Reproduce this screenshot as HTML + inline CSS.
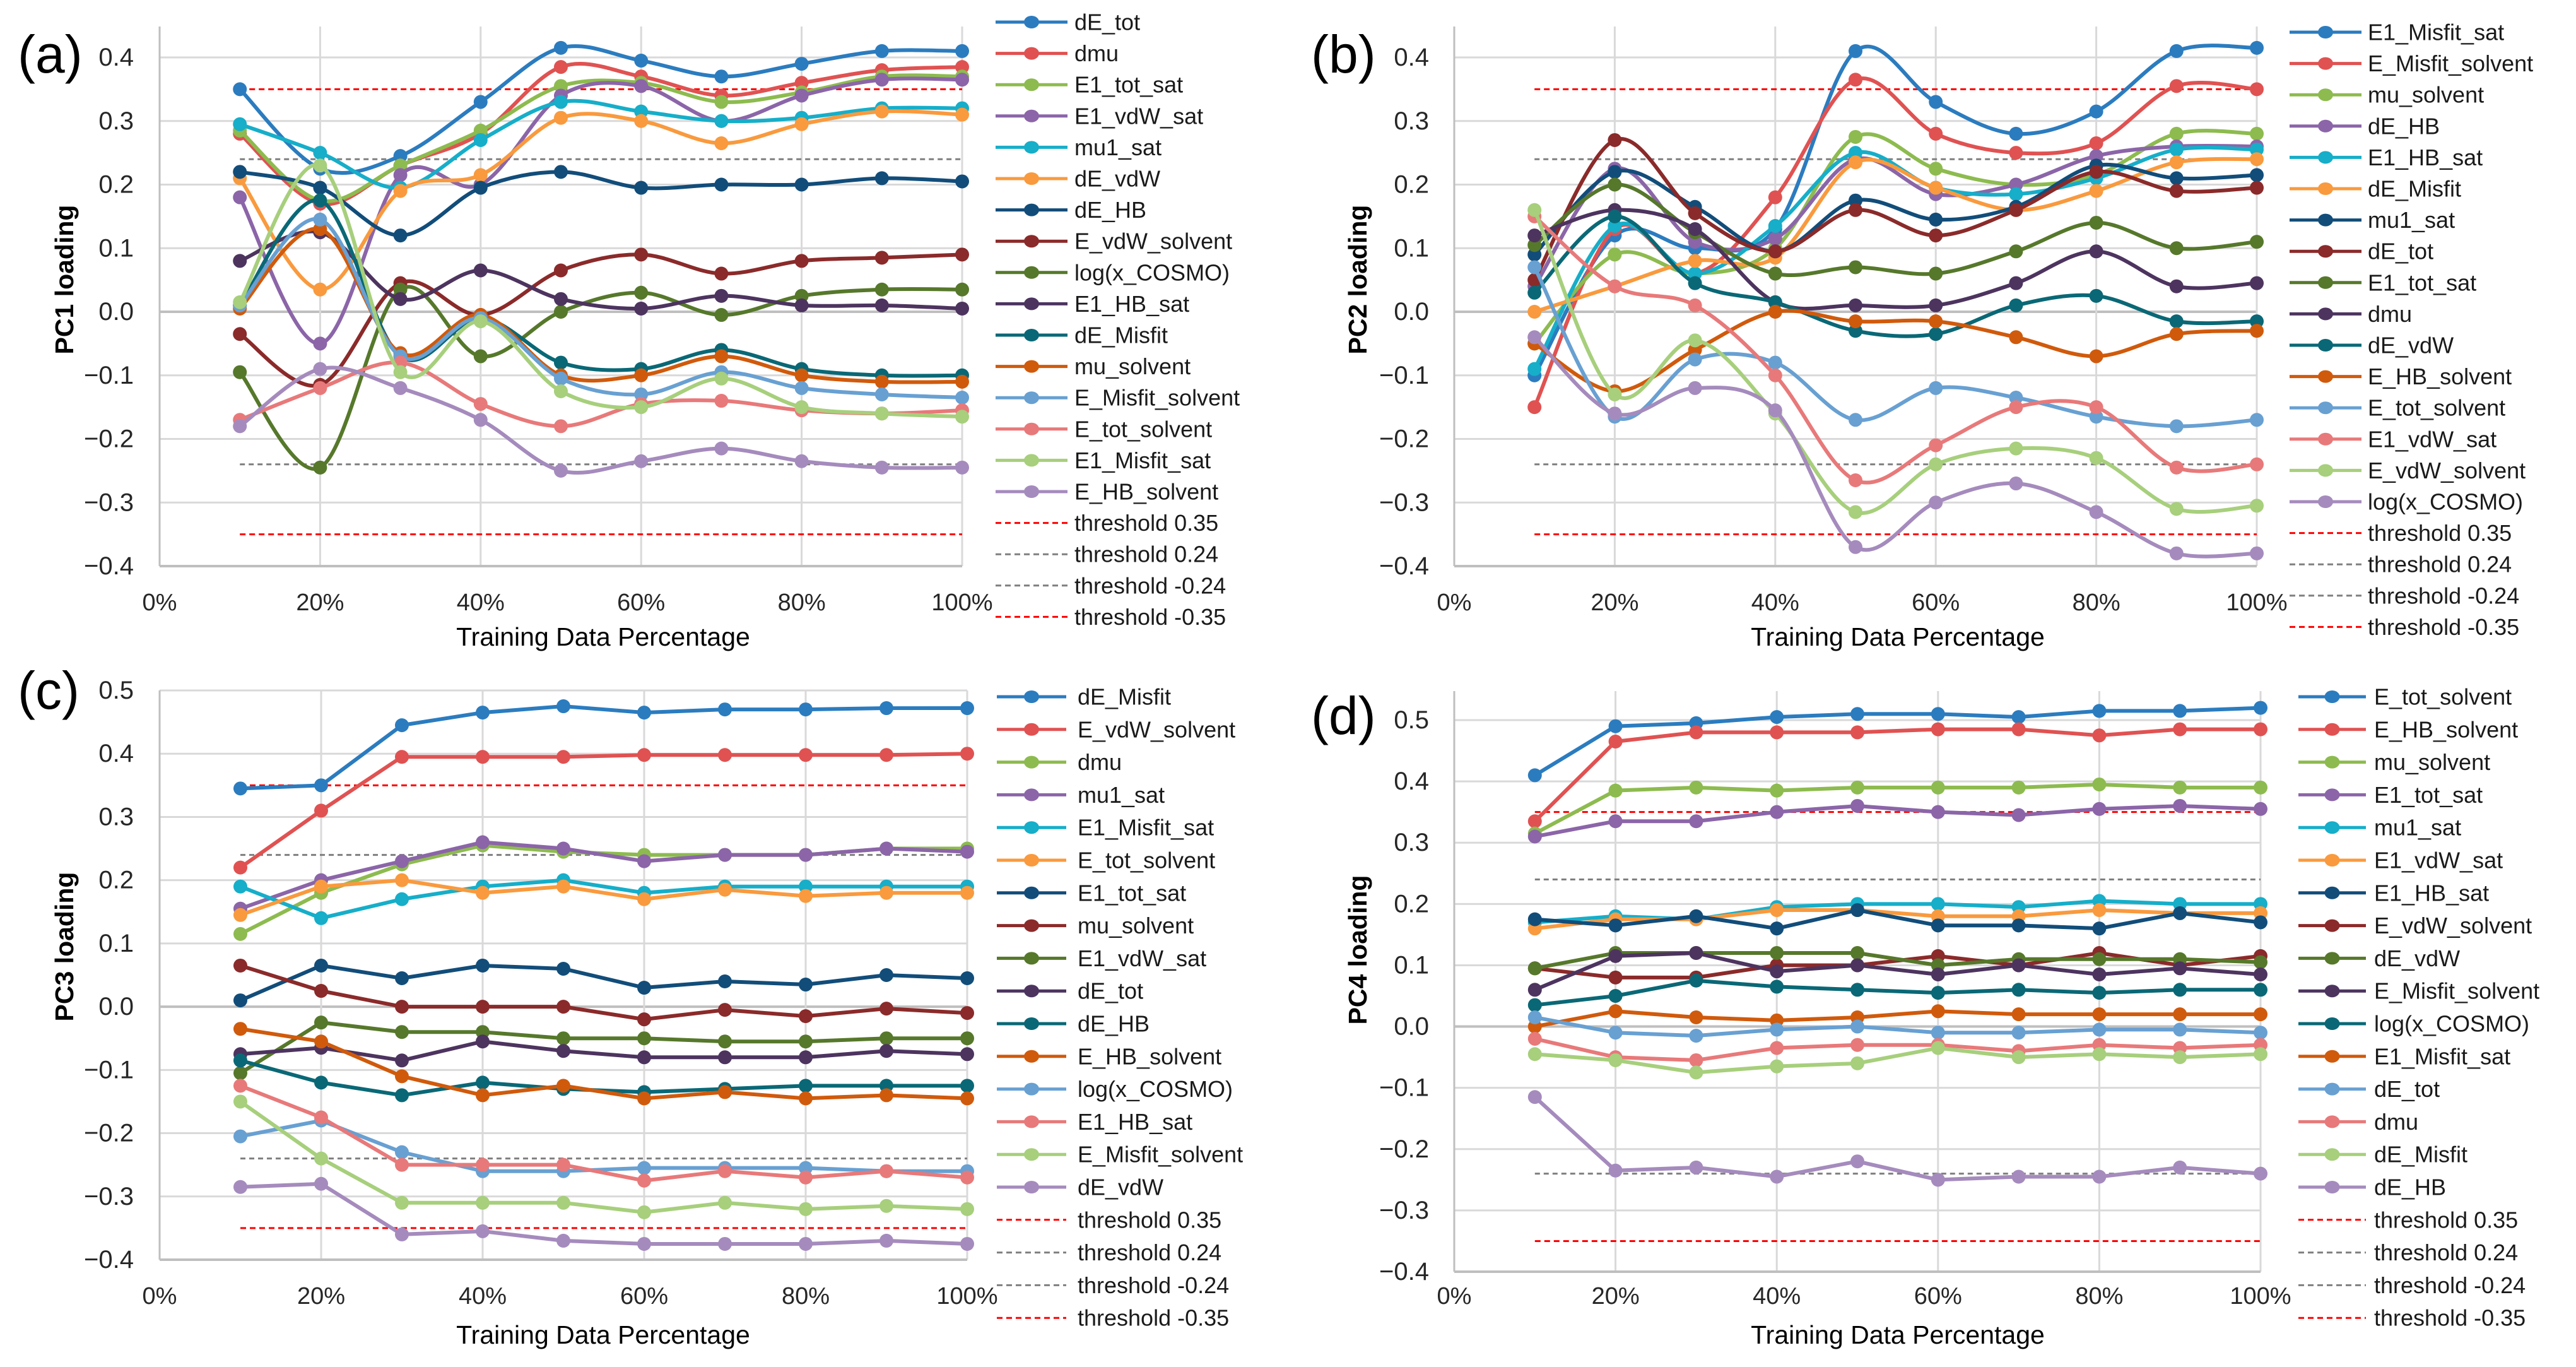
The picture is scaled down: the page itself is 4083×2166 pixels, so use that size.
<!DOCTYPE html>
<html><head><meta charset="utf-8"><title>PC loadings</title>
<style>
html,body{margin:0;padding:0;background:#fff;}
svg{display:block;font-family:"Liberation Sans",sans-serif;}
</style></head>
<body>
<svg id="fig" xmlns="http://www.w3.org/2000/svg" width="4083" height="2166" viewBox="0 0 4083 2166">
<rect x="0" y="0" width="4083" height="2166" fill="#fff"/>
</svg>
<script>
const categories = [10,20,30,40,50,60,70,80,90,100];
const xTicks = [0,20,40,60,80,100];
const abTicks = [0.4,0.3,0.2,0.1,0.0,-0.1,-0.2,-0.3,-0.4];
const cdTicks = [0.5,0.4,0.3,0.2,0.1,0.0,-0.1,-0.2,-0.3,-0.4];
const thresholds = [0.35,0.24,-0.24,-0.35];
const thresholdLabels = ["threshold 0.35","threshold 0.24","threshold -0.24","threshold -0.35"];
const palette = ["#2b7cbf","#e05252","#8dbb4f","#8b65a8","#16aec9","#f99a3e","#124d7a","#8b2a2a","#56782b","#4d345f","#0a6876","#d05a0c","#68a0d2","#e8797a","#a7cf7c","#a58bbd"];

const aNames = ["dE_tot","dmu","E1_tot_sat","E1_vdW_sat","mu1_sat","dE_vdW","dE_HB","E_vdW_solvent","log(x_COSMO)","E1_HB_sat","dE_Misfit","mu_solvent","E_Misfit_solvent","E_tot_solvent","E1_Misfit_sat","E_HB_solvent"];
const aValues = [
[0.35,0.225,0.245,0.33,0.415,0.395,0.37,0.39,0.41,0.41],
[0.28,0.17,0.23,0.28,0.385,0.37,0.34,0.36,0.38,0.385],
[0.285,0.175,0.23,0.285,0.355,0.36,0.33,0.345,0.37,0.37],
[0.18,-0.05,0.215,0.2,0.34,0.355,0.3,0.34,0.365,0.365],
[0.295,0.25,0.195,0.27,0.33,0.315,0.3,0.305,0.32,0.32],
[0.21,0.035,0.19,0.215,0.305,0.3,0.265,0.295,0.315,0.31],
[0.22,0.195,0.12,0.195,0.22,0.195,0.2,0.2,0.21,0.205],
[-0.035,-0.115,0.045,-0.005,0.065,0.09,0.06,0.08,0.085,0.09],
[-0.095,-0.245,0.035,-0.07,0.0,0.03,-0.005,0.025,0.035,0.035],
[0.08,0.125,0.02,0.065,0.02,0.005,0.025,0.01,0.01,0.005],
[0.01,0.175,-0.07,-0.01,-0.08,-0.09,-0.06,-0.09,-0.1,-0.1],
[0.005,0.13,-0.065,-0.005,-0.1,-0.1,-0.07,-0.1,-0.11,-0.11],
[0.01,0.145,-0.07,-0.01,-0.105,-0.13,-0.095,-0.12,-0.13,-0.135],
[-0.17,-0.12,-0.08,-0.145,-0.18,-0.145,-0.14,-0.155,-0.16,-0.155],
[0.015,0.23,-0.095,-0.015,-0.125,-0.15,-0.105,-0.15,-0.16,-0.165],
[-0.18,-0.09,-0.12,-0.17,-0.25,-0.235,-0.215,-0.235,-0.245,-0.245]];

const bNames = ["E1_Misfit_sat","E_Misfit_solvent","mu_solvent","dE_HB","E1_HB_sat","dE_Misfit","mu1_sat","dE_tot","E1_tot_sat","dmu","dE_vdW","E_HB_solvent","E_tot_solvent","E1_vdW_sat","E_vdW_solvent","log(x_COSMO)"];
const bValues = [
[-0.1,0.12,0.1,0.13,0.41,0.33,0.28,0.315,0.41,0.415],
[-0.15,0.13,0.06,0.18,0.365,0.28,0.25,0.265,0.355,0.35],
[-0.05,0.09,0.06,0.1,0.275,0.225,0.2,0.215,0.28,0.28],
[0.04,0.225,0.11,0.115,0.24,0.185,0.2,0.245,0.26,0.26],
[-0.09,0.135,0.06,0.135,0.25,0.195,0.185,0.21,0.255,0.255],
[0.0,0.04,0.08,0.085,0.235,0.195,0.16,0.19,0.235,0.24],
[0.09,0.22,0.165,0.095,0.175,0.145,0.165,0.23,0.21,0.215],
[0.05,0.27,0.155,0.095,0.16,0.12,0.16,0.22,0.19,0.195],
[0.105,0.2,0.125,0.06,0.07,0.06,0.095,0.14,0.1,0.11],
[0.12,0.16,0.13,0.015,0.01,0.01,0.045,0.095,0.04,0.045],
[0.03,0.15,0.045,0.015,-0.03,-0.035,0.01,0.025,-0.015,-0.015],
[-0.05,-0.125,-0.06,0.0,-0.015,-0.015,-0.04,-0.07,-0.035,-0.03],
[0.07,-0.165,-0.075,-0.08,-0.17,-0.12,-0.135,-0.165,-0.18,-0.17],
[0.15,0.04,0.01,-0.1,-0.265,-0.21,-0.15,-0.15,-0.245,-0.24],
[0.16,-0.13,-0.045,-0.16,-0.315,-0.24,-0.215,-0.23,-0.31,-0.305],
[-0.04,-0.16,-0.12,-0.155,-0.37,-0.3,-0.27,-0.315,-0.38,-0.38]];

const cNames = ["dE_Misfit","E_vdW_solvent","dmu","mu1_sat","E1_Misfit_sat","E_tot_solvent","E1_tot_sat","mu_solvent","E1_vdW_sat","dE_tot","dE_HB","E_HB_solvent","log(x_COSMO)","E1_HB_sat","E_Misfit_solvent","dE_vdW"];
const cValues = [
[0.345,0.35,0.445,0.465,0.475,0.465,0.47,0.47,0.472,0.472],
[0.22,0.31,0.395,0.395,0.395,0.398,0.398,0.398,0.398,0.4],
[0.115,0.18,0.225,0.255,0.245,0.24,0.24,0.24,0.25,0.25],
[0.155,0.2,0.23,0.26,0.25,0.23,0.24,0.24,0.25,0.245],
[0.19,0.14,0.17,0.19,0.2,0.18,0.19,0.19,0.19,0.19],
[0.145,0.19,0.2,0.18,0.19,0.17,0.185,0.175,0.18,0.18],
[0.01,0.065,0.045,0.065,0.06,0.03,0.04,0.035,0.05,0.045],
[0.065,0.025,0.0,0.0,0.0,-0.02,-0.005,-0.015,-0.003,-0.01],
[-0.105,-0.025,-0.04,-0.04,-0.05,-0.05,-0.055,-0.055,-0.05,-0.05],
[-0.075,-0.065,-0.085,-0.055,-0.07,-0.08,-0.08,-0.08,-0.07,-0.075],
[-0.085,-0.12,-0.14,-0.12,-0.13,-0.135,-0.13,-0.125,-0.125,-0.125],
[-0.035,-0.055,-0.11,-0.14,-0.125,-0.145,-0.135,-0.145,-0.14,-0.145],
[-0.205,-0.18,-0.23,-0.26,-0.26,-0.255,-0.255,-0.255,-0.26,-0.26],
[-0.125,-0.175,-0.25,-0.25,-0.25,-0.275,-0.26,-0.27,-0.26,-0.27],
[-0.15,-0.24,-0.31,-0.31,-0.31,-0.325,-0.31,-0.32,-0.315,-0.32],
[-0.285,-0.28,-0.36,-0.355,-0.37,-0.375,-0.375,-0.375,-0.37,-0.375]];

const dNames = ["E_tot_solvent","E_HB_solvent","mu_solvent","E1_tot_sat","mu1_sat","E1_vdW_sat","E1_HB_sat","E_vdW_solvent","dE_vdW","E_Misfit_solvent","log(x_COSMO)","E1_Misfit_sat","dE_tot","dmu","dE_Misfit","dE_HB"];
const dValues = [
[0.41,0.49,0.495,0.505,0.51,0.51,0.505,0.515,0.515,0.52],
[0.335,0.465,0.48,0.48,0.48,0.485,0.485,0.475,0.485,0.485],
[0.315,0.385,0.39,0.385,0.39,0.39,0.39,0.395,0.39,0.39],
[0.31,0.335,0.335,0.35,0.36,0.35,0.345,0.355,0.36,0.355],
[0.17,0.18,0.175,0.195,0.2,0.2,0.195,0.205,0.2,0.2],
[0.16,0.175,0.175,0.19,0.19,0.18,0.18,0.19,0.185,0.185],
[0.175,0.165,0.18,0.16,0.19,0.165,0.165,0.16,0.185,0.17],
[0.095,0.08,0.08,0.1,0.1,0.115,0.1,0.12,0.1,0.115],
[0.095,0.12,0.12,0.12,0.12,0.1,0.11,0.11,0.11,0.105],
[0.06,0.115,0.12,0.09,0.1,0.085,0.1,0.085,0.095,0.085],
[0.035,0.05,0.075,0.065,0.06,0.055,0.06,0.055,0.06,0.06],
[0.0,0.025,0.015,0.01,0.015,0.025,0.02,0.02,0.02,0.02],
[0.015,-0.01,-0.015,-0.005,0.0,-0.01,-0.01,-0.005,-0.005,-0.01],
[-0.02,-0.05,-0.055,-0.035,-0.03,-0.03,-0.04,-0.03,-0.035,-0.03],
[-0.045,-0.055,-0.075,-0.065,-0.06,-0.035,-0.05,-0.045,-0.05,-0.045],
[-0.115,-0.235,-0.23,-0.245,-0.22,-0.25,-0.245,-0.245,-0.23,-0.24]];

const NS = "http://www.w3.org/2000/svg";
const svg = document.getElementById('fig');
function mk(tag, attrs, parent){
  const e = document.createElementNS(NS, tag);
  for (const k in attrs) e.setAttribute(k, attrs[k]);
  (parent||svg).appendChild(e);
  return e;
}

const panels = [
 {id:'a', label:'(a)', ylab:'PC1 loading', names:aNames, values:aValues, ticks:abTicks, smooth:true,
  x0:253, x1:1525, vTop:0.4, yTop:91, vBot:-0.4, yBot:897, plotTop:42,
  lgLine0:1578, lgLine1:1692, lgText:1703, lgY0:35, lgDy:49.6,
  ylabX:102, ylabY:443, tickRight:212, xTickY:955, xTitleY:1009, letterX:28, letterY:86},
 {id:'b', label:'(b)', ylab:'PC2 loading', names:bNames, values:bValues, ticks:abTicks, smooth:true,
  x0:2305, x1:3577, vTop:0.4, yTop:91, vBot:-0.4, yBot:897, plotTop:42,
  lgLine0:3629, lgLine1:3743, lgText:3753, lgY0:51, lgDy:49.6,
  ylabX:2152, ylabY:443, tickRight:2265, xTickY:955, xTitleY:1009, letterX:2078, letterY:86},
 {id:'c', label:'(c)', ylab:'PC3 loading', names:cNames, values:cValues, ticks:cdTicks, smooth:false,
  x0:253, x1:1533, vTop:0.5, yTop:1094, vBot:-0.4, yBot:1996, plotTop:1094,
  lgLine0:1580, lgLine1:1690, lgText:1708, lgY0:1104, lgDy:51.8,
  ylabX:102, ylabY:1500, tickRight:212, xTickY:2054, xTitleY:2115, letterX:28, letterY:1094},
 {id:'d', label:'(d)', ylab:'PC4 loading', names:dNames, values:dValues, ticks:cdTicks, smooth:false,
  x0:2305, x1:3583, vTop:0.5, yTop:1141, vBot:-0.4, yBot:2015, plotTop:1095,
  lgLine0:3643, lgLine1:3750, lgText:3763, lgY0:1104, lgDy:51.8,
  ylabX:2152, ylabY:1505, tickRight:2265, xTickY:2054, xTitleY:2115, letterX:2078, letterY:1134}
];

function smoothPath(pts){
  let d = 'M'+pts[0][0]+','+pts[0][1];
  for (let i=0;i<pts.length-1;i++){
    const p0 = pts[Math.max(0,i-1)], p1 = pts[i], p2 = pts[i+1], p3 = pts[Math.min(pts.length-1,i+2)];
    const t = 1/6;
    const c1x = p1[0]+(p2[0]-p0[0])*t, c1y = p1[1]+(p2[1]-p0[1])*t;
    const c2x = p2[0]-(p3[0]-p1[0])*t, c2y = p2[1]-(p3[1]-p1[1])*t;
    d += ' C'+c1x+','+c1y+' '+c2x+','+c2y+' '+p2[0]+','+p2[1];
  }
  return d;
}

panels.forEach(P => {
  const xS = v => P.x0 + (P.x1-P.x0)*v/100;
  const yS = v => P.yTop + (P.vTop - v)*(P.yBot-P.yTop)/(P.vTop-P.vBot);
  const g = mk('g', {});
  
  

  P.ticks.forEach(t => {
    const gl = mk('line', {x1:P.x0, x2:P.x1, y1:yS(t), y2:yS(t), stroke: Math.abs(t)<1e-9 ? '#bfbfbf':'#d9d9d9', 'stroke-width': Math.abs(t)<1e-9 ? 4:3}, g);
    
    
    const tl = mk('text', {x:P.tickRight, y:yS(t), 'text-anchor':'end', 'dominant-baseline':'central', 'font-size':40, fill:'#262626'}, g);
    tl.textContent = t.toFixed(1).replace('-', '\u2212');
    
    
  });
  xTicks.forEach(t => {
    const gl = mk('line', {x1:xS(t), x2:xS(t), y1:P.plotTop, y2:P.yBot, stroke: t===0 ? '#bfbfbf':'#d9d9d9', 'stroke-width':3}, g);
    
    
    const tl = mk('text', {x:xS(t), y:P.xTickY, 'text-anchor':'middle', 'dominant-baseline':'central', 'font-size':38, fill:'#262626'}, g);
    tl.textContent = t+'%';
    
    
  });
  const base = mk('line', {x1:P.x0, x2:P.x1, y1:P.yBot, y2:P.yBot, stroke:'#bfbfbf', 'stroke-width':4}, g);
  
  

  thresholds.forEach((th, i) => {
    const red = Math.abs(th) > 0.3;
    const l = mk('line', {x1:xS(categories[0]), x2:xS(categories[categories.length-1]), y1:yS(th), y2:yS(th), stroke: red?'#ff0000':'#7f7f7f', 'stroke-width':3, 'stroke-dasharray': red?'9,6':'8,6'}, g);
    
    
  });

  P.values.forEach((vals, si) => {
    const col = palette[si];
    const pts = vals.map((v,i) => [xS(categories[i]), yS(v)]);
    const sg = mk('g', {}, g);
    
    
    const d = P.smooth ? smoothPath(pts) : 'M'+pts.map(p=>p[0]+','+p[1]).join(' L');
    const path = mk('path', {d:d, fill:'none', stroke:col, 'stroke-width':6, 'stroke-linejoin':'round'}, sg);
    
    
    pts.forEach(p => {
      const c = mk('ellipse', {cx:p[0], cy:p[1], rx:11, ry:11, fill:col}, sg);
      
      
    });
  });

  const lg = mk('g', {}, g);
  
  
  const allLabels = P.names.concat(thresholdLabels);
  allLabels.forEach((nm, i) => {
    const y = P.lgY0 + i*P.lgDy;
    const isTh = i >= P.names.length;
    const eg = mk('g', {}, lg);
    
    
    if (!isTh) {
      mk('line', {x1:P.lgLine0, x2:P.lgLine1, y1:y, y2:y, stroke:palette[i], 'stroke-width':5}, eg);
      mk('ellipse', {cx:(P.lgLine0+P.lgLine1)/2, cy:y, rx:12, ry:10, fill:palette[i]}, eg);
    } else {
      const th = thresholds[i-P.names.length];
      const red = Math.abs(th) > 0.3;
      mk('line', {x1:P.lgLine0, x2:P.lgLine1, y1:y, y2:y, stroke: red?'#ff0000':'#7f7f7f', 'stroke-width':3, 'stroke-dasharray':'9,6'}, eg);
    }
    const t = mk('text', {x:P.lgText, y:y, 'dominant-baseline':'central', 'font-size':36, fill:'#1a1a1a'}, eg);
    t.textContent = nm;
  });

  const yl = mk('text', {x:P.ylabX, y:P.ylabY, 'text-anchor':'middle', 'dominant-baseline':'central', 'font-size':41, 'font-weight':'bold', fill:'#000', transform:'rotate(-90 '+P.ylabX+' '+P.ylabY+')'}, g);
  yl.textContent = P.ylab;
  
  
  const xt = mk('text', {x:P.x0+703, y:P.xTitleY, 'text-anchor':'middle', 'dominant-baseline':'central', 'font-size':41, fill:'#000'}, g);
  xt.textContent = 'Training Data Percentage';
  
  
  const lt = mk('text', {x:P.letterX, y:P.letterY, 'dominant-baseline':'central', 'font-size':84, fill:'#000'}, g);
  lt.textContent = P.label;
  
  
});
</script>
</body></html>
